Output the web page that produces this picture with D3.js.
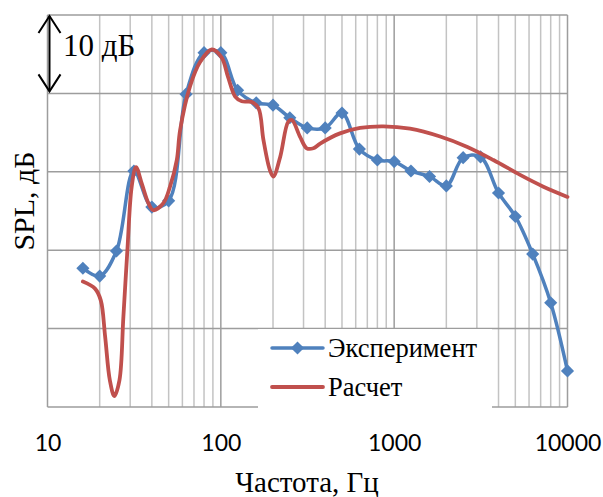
<!DOCTYPE html>
<html>
<head>
<meta charset="utf-8">
<script src="https://cdn.jsdelivr.net/npm/d3@7/dist/d3.min.js"></script>
<style>
  html, body { margin: 0; padding: 0; background: #fff; }
  svg { display: block; }
</style>
</head>
<body>
<svg id="chart" width="603" height="497"></svg>
<script>
// Measured SPL, 1/3-octave frequencies (Hz) and levels (dB, relative)
const expFreq = [16, 20, 25, 31.5, 40, 50, 63, 80, 100, 125, 160, 200, 250, 315, 400, 500,
                 630, 800, 1000, 1250, 1600, 2000, 2500, 3150, 4000, 5000, 6300, 8000, 10000];
const expSpl  = [17.7, 16.7, 19.9, 30.1, 25.5, 26.3, 39.9, 45.2, 45.2, 40.4, 38.8, 38.5, 36.9, 35.6, 35.6, 37.5,
                 32.9, 31.5, 31.3, 30.1, 29.4, 28.2, 31.8, 31.9, 27.3, 24.3, 19.5, 13.3, 4.6];

// Calculated response
const calcFreq = [16, 18.8, 20.3, 21.5, 22.9, 24.3, 26.0, 27.4, 28.9, 30.6, 32.4, 35.0, 38.2, 40.8, 46.6, 50.9,
                  55.7, 58.2, 66.4, 75.9, 88.6, 101, 110, 121, 132, 151, 165, 176, 192, 201, 220, 245, 257,
                  286, 313, 342, 374, 487, 636, 867, 1235, 1841, 2624, 3737, 5328, 7259, 10000];
const calcSpl  = [16.0, 15.1, 13.6, 9.0, 3.4, 1.4, 3.4, 11.5, 20.0, 28.1, 30.6, 28.5, 26.0, 25.1, 26.0, 28.1,
                  31.5, 35.3, 40.9, 44.0, 45.6, 44.6, 42.1, 39.6, 39.0, 38.9, 38.1, 34.1, 30.2, 29.4, 31.9, 36.4, 36.6,
                  34.5, 33.0, 33.0, 33.6, 34.9, 35.6, 35.8, 35.5, 34.5, 33.2, 31.5, 29.6, 28.1, 26.8];

const xTickValues = [10, 100, 1000, 10000];
const xTickLabels = ["10", "100", "1000", "10000"];
const yGridValues = [0, 10, 20, 30, 40, 50];
const seriesNames = ["Эксперимент", "Расчет"];
const xTitle = "Частота, Гц";
const yTitle = "SPL, дБ";
const scaleLabel = "10 дБ";

const blue = "#4F81BD", red = "#C0504D";
const svg = d3.select("#chart");

const x = d3.scaleLog().domain([10, 10000]).range([47.5, 567.5]);
const y = d3.scaleLinear().domain([0, 50]).range([407, 15]);

// grid: minor verticals (2..9 per decade), then decades and horizontals
const minor = [];
for (const dec of [10, 100, 1000]) for (let k = 2; k <= 9; k++) minor.push(dec * k);
const grid = svg.append("g");
grid.selectAll("line.minor").data(minor).join("line")
  .attr("class", "minor")
  .attr("x1", d => x(d)).attr("x2", d => x(d))
  .attr("y1", y(0)).attr("y2", y(50))
  .attr("stroke", "#c3c3c3").attr("stroke-width", 1.5);
grid.selectAll("line.hor").data(yGridValues).join("line")
  .attr("class", "hor")
  .attr("x1", x(10)).attr("x2", x(10000))
  .attr("y1", d => y(d)).attr("y2", d => y(d))
  .attr("stroke", "#9d9d9d").attr("stroke-width", 1.5);
grid.selectAll("line.major").data(xTickValues).join("line")
  .attr("class", "major")
  .attr("x1", d => x(d)).attr("x2", d => x(d))
  .attr("y1", y(0)).attr("y2", y(50))
  .attr("stroke", "#9d9d9d").attr("stroke-width", 1.5);

// x axis labels
const xAxis = d3.axisBottom(x).tickValues(xTickValues)
  .tickFormat((d, i) => xTickLabels[i]).tickSize(0).tickPadding(0);
const gx = svg.append("g").attr("transform", `translate(0, ${y(0)})`).call(xAxis);
gx.select(".domain").remove();
gx.selectAll("text")
  .attr("y", 44).attr("dy", 0)
  .attr("fill", "#000")
  .style("font-family", "Lato, 'Open Sans', sans-serif")
  .style("font-size", "23px");

// series lines
const line = d3.line().x(d => x(d[0])).y(d => y(d[1])).curve(d3.curveCatmullRom.alpha(0.5));
const expData = expFreq.map((f, i) => [f, expSpl[i]]);
const calcData = calcFreq.map((f, i) => [f, calcSpl[i]]);

svg.append("path").datum(expData).attr("d", line)
  .attr("fill", "none").attr("stroke", blue).attr("stroke-width", 3.5).attr("stroke-linejoin", "round");
const diamond = d3.symbol().type(d3.symbolDiamond2).size(110);
svg.append("g").selectAll("path").data(expData).join("path")
  .attr("d", diamond)
  .attr("transform", d => `translate(${x(d[0])}, ${y(d[1])})`)
  .attr("fill", blue);

svg.append("path").datum(calcData).attr("d", line)
  .attr("fill", "none").attr("stroke", red).attr("stroke-width", 3.8).attr("stroke-linejoin", "round")
  .attr("stroke-linecap", "round");

// legend
const lg = svg.append("g");
lg.append("rect").attr("x", 258).attr("y", 329).attr("width", 234).attr("height", 80).attr("fill", "#fff");
const rows = [{ name: seriesNames[0], color: blue, marker: true, cy: 348 },
              { name: seriesNames[1], color: red, marker: false, cy: 387 }];
rows.forEach(r => {
  lg.append("line").attr("x1", 272).attr("x2", 323).attr("y1", r.cy).attr("y2", r.cy)
    .attr("stroke", r.color).attr("stroke-width", r.marker ? 3.5 : 3.8).attr("stroke-linecap", "round");
  if (r.marker) lg.append("path").attr("d", diamond).attr("transform", `translate(297.5, ${r.cy})`).attr("fill", r.color);
  lg.append("text").attr("x", 328).attr("y", r.cy + 9).text(r.name)
    .style("font-family", "'Liberation Serif', 'Times New Roman', serif").style("font-size", "26.5px");
});

// scale arrow: 10 dB span
const arrowX = 49.5, arrowTop = y(50) + 1, arrowBot = y(40) - 2;
const arrow = svg.append("g").attr("fill", "none").attr("stroke", "#000").attr("stroke-width", 2);
arrow.append("line").attr("x1", arrowX).attr("x2", arrowX).attr("y1", arrowTop).attr("y2", arrowBot);
arrow.append("polyline").attr("points", `${arrowX - 11},${arrowTop + 17} ${arrowX},${arrowTop} ${arrowX + 11},${arrowTop + 17}`);
arrow.append("polyline").attr("points", `${arrowX - 11},${arrowBot - 17} ${arrowX},${arrowBot} ${arrowX + 11},${arrowBot - 17}`);
svg.append("text").attr("x", 63).attr("y", 56).text(scaleLabel)
  .style("font-family", "'Liberation Serif', 'Times New Roman', serif").style("font-size", "31px");

// axis titles
svg.append("text").attr("x", 307).attr("y", 492).attr("text-anchor", "middle").text(xTitle)
  .style("font-family", "'Liberation Serif', 'Times New Roman', serif").style("font-size", "29px");
svg.append("text").attr("transform", "translate(33.5, 201) rotate(-90)").attr("text-anchor", "middle").text(yTitle)
  .style("font-family", "'Liberation Serif', 'Times New Roman', serif").style("font-size", "30px");
</script>
</body>
</html>
